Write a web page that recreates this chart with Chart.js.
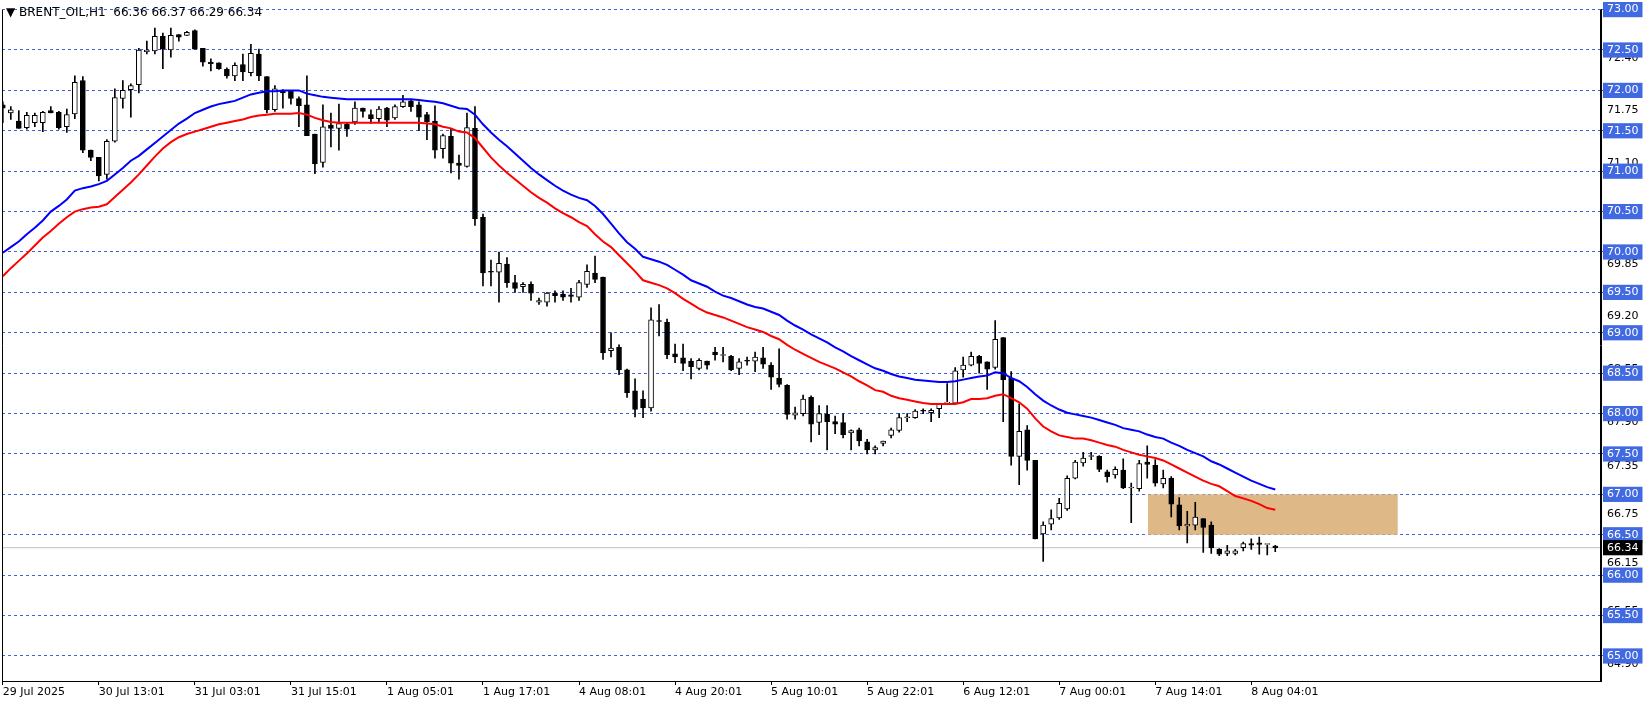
<!DOCTYPE html>
<html><head><meta charset="utf-8">
<script src="https://cdn.jsdelivr.net/npm/chart.js@4/dist/chart.umd.min.js"></script>
<style>
html,body{margin:0;padding:0;background:#fff;}
#wrap{position:relative;width:1651px;height:705px;}
#hdr{position:absolute;left:6px;top:5px;font:12px "DejaVu Sans",sans-serif;color:#000;white-space:pre;}
</style></head><body>
<div id="wrap"><canvas id="c" width="1651" height="705"></canvas>
<div id="hdr">▼ BRENT_OIL,H1  66.36 66.37 66.29 66.34</div></div>
<script>
const opens=[71.82,71.72,71.62,71.54,71.60,71.60,71.75,71.73,71.55,71.71,72.12,71.26,71.17,70.96,71.37,71.90,72.01,72.07,72.48,72.49,72.67,72.50,72.69,72.68,72.74,72.52,72.35,72.34,72.26,72.18,72.32,72.22,72.45,72.17,71.76,72.00,72.00,71.90,71.82,71.46,71.11,71.57,71.53,71.58,71.61,71.78,71.70,71.65,71.78,71.66,71.80,71.87,71.82,71.70,71.62,71.28,71.43,71.10,71.06,71.53,70.43,69.76,69.75,69.85,69.62,69.57,69.60,69.38,69.38,69.49,69.48,69.47,69.44,69.60,69.74,69.69,68.78,68.82,68.54,68.28,68.18,68.07,69.15,69.13,68.74,68.69,68.65,68.56,68.65,68.76,68.72,68.71,68.56,68.66,68.65,68.69,68.60,68.44,68.35,67.98,68.00,68.20,67.89,67.99,67.90,67.89,67.76,67.80,67.65,67.55,67.63,67.73,67.79,67.95,67.95,68.04,68.01,68.06,68.13,68.13,68.54,68.60,68.71,68.64,68.57,68.94,68.44,67.47,67.80,67.42,66.51,66.63,66.71,66.82,67.20,67.39,67.47,67.47,67.28,67.24,67.30,67.08,67.07,67.40,67.36,67.13,67.20,66.87,66.61,66.62,66.70,66.62,66.32,66.27,66.27,66.34,66.39,66.40,66.38,66.36];
const highs=[71.86,71.80,71.75,71.73,71.72,71.74,71.80,71.74,71.77,72.18,72.17,71.26,71.17,71.39,72.02,72.12,72.08,72.52,72.61,72.77,72.71,72.77,72.69,72.73,72.75,72.52,72.39,72.34,72.28,72.34,72.45,72.57,72.51,72.17,72.06,72.01,72.00,71.92,72.18,71.46,71.82,71.72,71.83,71.60,71.86,71.78,71.76,71.80,71.79,71.82,71.94,71.89,71.86,71.73,71.81,71.46,71.52,71.20,71.72,71.80,70.47,69.90,70.00,69.93,69.71,69.62,69.63,69.43,69.50,69.52,69.52,69.55,69.65,69.84,69.95,69.69,69.00,68.85,68.55,68.43,68.28,69.31,69.35,69.17,68.86,68.86,68.68,68.68,68.65,68.82,68.82,68.72,68.68,68.70,68.76,68.82,68.63,68.80,68.36,68.08,68.23,68.22,68.10,68.10,67.97,68.00,67.80,67.82,67.68,67.60,67.66,67.82,68.00,68.00,68.05,68.06,68.06,68.12,68.37,68.57,68.70,68.76,68.72,68.64,69.15,68.94,68.52,68.12,67.85,67.42,66.66,66.81,66.95,67.23,67.42,67.52,67.52,67.48,67.30,67.34,67.44,67.14,67.42,67.60,67.43,67.30,67.22,66.96,66.79,66.90,66.70,66.66,66.33,66.37,66.32,66.41,66.45,66.47,66.38,66.37];
const lows=[71.60,71.64,71.53,71.52,71.55,71.49,71.72,71.52,71.48,71.65,71.23,71.13,70.88,70.90,71.36,71.78,71.67,71.97,72.45,72.45,72.27,72.41,72.61,72.68,72.51,72.30,72.24,72.26,72.15,72.12,72.12,72.18,72.12,71.72,71.74,71.78,71.83,71.55,71.44,70.97,71.05,71.30,71.26,71.43,71.58,71.67,71.59,71.60,71.55,71.64,71.79,71.74,71.50,71.39,71.16,71.16,70.98,70.90,71.05,70.33,69.58,69.58,69.38,69.56,69.50,69.50,69.40,69.35,69.33,69.38,69.40,69.38,69.40,69.56,69.62,68.67,68.70,68.48,68.20,67.96,67.95,68.03,68.96,68.68,68.63,68.53,68.43,68.54,68.55,68.66,68.64,68.53,68.48,68.60,68.52,68.56,68.30,68.33,67.93,67.93,67.97,67.65,67.74,67.55,67.75,67.70,67.55,67.60,67.50,67.50,67.60,67.70,67.77,67.90,67.94,68.00,67.90,67.95,68.12,68.12,68.45,68.59,68.50,68.30,68.55,67.90,67.36,67.12,67.30,66.45,66.17,66.56,66.69,66.80,67.19,67.35,67.43,67.28,67.15,67.20,67.07,66.65,67.04,67.20,67.10,67.08,66.72,66.56,66.40,66.56,66.28,66.27,66.24,66.24,66.25,66.30,66.32,66.26,66.25,66.29];
const closes=[71.78,71.76,71.53,71.69,71.69,71.73,71.72,71.54,71.70,72.10,71.26,71.17,70.94,71.37,71.91,72.00,72.06,72.50,72.50,72.67,72.51,72.68,72.66,72.72,72.51,72.35,72.33,72.27,72.18,72.31,72.23,72.46,72.18,71.76,72.02,71.97,71.90,71.81,71.44,71.09,71.55,71.53,71.59,71.52,71.78,71.74,71.65,71.77,71.63,71.80,71.86,71.80,71.67,71.61,71.26,71.44,71.10,71.07,71.54,70.41,69.74,69.75,69.86,69.62,69.55,69.60,69.49,69.40,69.49,69.46,69.44,69.45,69.62,69.76,69.66,68.75,68.81,68.54,68.26,68.05,68.07,69.16,69.14,68.73,68.70,68.62,68.58,68.66,68.60,68.73,68.72,68.54,68.64,68.65,68.70,68.61,68.45,68.36,67.99,68.01,68.18,67.87,68.00,67.90,67.87,67.74,67.79,67.66,67.55,67.58,67.66,67.80,67.95,67.96,68.03,68.03,68.04,68.12,68.14,68.53,68.60,68.71,68.62,68.55,68.92,68.42,67.47,67.78,67.42,66.45,66.62,66.70,66.89,67.20,67.40,67.45,67.48,67.31,67.22,67.31,67.08,67.09,67.38,67.37,67.14,67.20,66.88,66.61,66.63,66.72,66.59,66.34,66.26,66.30,66.30,66.39,66.37,66.38,66.39,66.34];
const emaBlue=[69.99,70.06,70.13,70.22,70.30,70.39,70.50,70.57,70.65,70.76,70.79,70.81,70.84,70.88,70.96,71.04,71.13,71.19,71.27,71.35,71.43,71.51,71.59,71.65,71.72,71.76,71.80,71.83,71.85,71.87,71.91,71.95,71.97,71.99,71.99,72.00,72.00,72.00,71.96,71.94,71.92,71.91,71.90,71.89,71.89,71.89,71.89,71.89,71.89,71.89,71.89,71.89,71.88,71.87,71.86,71.84,71.81,71.78,71.77,71.70,71.58,71.48,71.39,71.31,71.22,71.13,71.04,70.96,70.89,70.82,70.76,70.71,70.67,70.64,70.57,70.47,70.35,70.23,70.12,70.04,69.94,69.91,69.88,69.84,69.78,69.72,69.65,69.61,69.57,69.51,69.46,69.43,69.39,69.35,69.32,69.30,69.26,69.22,69.15,69.09,69.04,68.98,68.93,68.88,68.82,68.77,68.71,68.66,68.61,68.56,68.53,68.49,68.46,68.44,68.42,68.41,68.40,68.39,68.39,68.40,68.42,68.44,68.46,68.47,68.51,68.50,68.44,68.40,68.33,68.24,68.16,68.10,68.05,68.01,67.99,67.97,67.95,67.92,67.89,67.86,67.82,67.80,67.78,67.74,67.71,67.69,67.64,67.60,67.55,67.51,67.47,67.41,67.37,67.32,67.27,67.22,67.17,67.13,67.09,67.06];
const emaRed=[69.70,69.80,69.89,69.98,70.08,70.18,70.26,70.35,70.43,70.50,70.53,70.55,70.56,70.59,70.68,70.77,70.86,70.96,71.07,71.18,71.28,71.36,71.42,71.46,71.49,71.52,71.55,71.58,71.60,71.62,71.64,71.67,71.69,71.70,71.71,71.71,71.71,71.72,71.70,71.66,71.63,71.61,71.60,71.60,71.60,71.60,71.60,71.60,71.60,71.60,71.60,71.60,71.60,71.59,71.58,71.55,71.53,71.49,71.48,71.41,71.29,71.17,71.07,70.98,70.90,70.82,70.74,70.67,70.61,70.54,70.48,70.43,70.37,70.32,70.22,70.13,70.06,69.96,69.86,69.76,69.65,69.62,69.59,69.55,69.49,69.42,69.36,69.30,69.25,69.22,69.19,69.15,69.11,69.07,69.04,69.01,68.96,68.92,68.85,68.79,68.74,68.69,68.64,68.60,68.56,68.51,68.46,68.40,68.35,68.29,68.27,68.22,68.19,68.17,68.15,68.13,68.12,68.12,68.12,68.12,68.14,68.18,68.18,68.19,68.22,68.24,68.19,68.14,68.06,67.94,67.84,67.78,67.73,67.71,67.69,67.69,67.67,67.64,67.61,67.59,67.55,67.52,67.49,67.47,67.45,67.42,67.37,67.32,67.27,67.22,67.17,67.13,67.10,67.04,66.98,66.95,66.92,66.88,66.83,66.81];
const timeTickIdx=[0,12,24,36,48,60,72,84,96,108,120,132,144,156];
const timeLabels=["29 Jul 2025","30 Jul 13:01","31 Jul 03:01","31 Jul 15:01","1 Aug 05:01","1 Aug 17:01","4 Aug 08:01","4 Aug 20:01","5 Aug 10:01","5 Aug 22:01","6 Aug 12:01","7 Aug 00:01","7 Aug 14:01","8 Aug 04:01"];
const minorPriceTicks=[72.40,71.75,71.10,69.85,69.20,68.55,67.90,67.35,66.75,66.15,65.55,64.90];
const gridPriceTicks=[73.0,72.5,72.0,71.5,71.0,70.5,70.0,69.5,69.0,68.5,68.0,67.5,67.0,66.5,66.0,65.5,65.0];
const lastPrice=66.34;
const zoneX=[143.1,174.3], zoneY=[66.5,67.0];

const idx=opens.map((_,i)=>i);
const wickData=idx.map(i=>({x:i,y:[lows[i],highs[i]]}));
const bodyData=idx.map(i=>{let a=opens[i],b=closes[i];if(Math.abs(a-b)<0.005)b=a+0.01;return {x:i,y:[a,b]};});
const bodyFill=idx.map(i=>closes[i]>=opens[i]?'#ffffff':'#000000');
const blueData=idx.map(i=>({x:i,y:emaBlue[i]}));
const redData=idx.map(i=>({x:i,y:emaRed[i]}));
const allY=[...minorPriceTicks,...gridPriceTicks,lastPrice];
const isGrid=v=>gridPriceTicks.some(g=>Math.abs(g-v)<1e-6);
const isLast=v=>Math.abs(v-lastPrice)<1e-6;
const FONT={family:'"DejaVu Sans", sans-serif',size:11};

const zonePlugin={id:'zone',beforeDatasetsDraw(ch){const x=ch.scales.x,y=ch.scales.y,c=ch.ctx;
 const x0=x.getPixelForValue(zoneX[0]),x1=x.getPixelForValue(zoneX[1]),y0=y.getPixelForValue(zoneY[1]),y1=y.getPixelForValue(zoneY[0]);
 c.save();c.fillStyle='#deb887';c.fillRect(x0,y0,x1-x0,y1-y0);c.restore();}};
const borderPlugin={id:'bord',afterDraw(ch){const a=ch.chartArea,c=ch.ctx;c.save();c.strokeStyle='#000';c.lineWidth=1;
 const l=Math.round(a.left)+0.5,r=Math.round(a.right)-0.5,t=Math.round(a.top),b=Math.round(a.bottom)+0.5;
 c.beginPath();c.moveTo(l,t);c.lineTo(l,b);c.lineTo(r,b);c.lineTo(r,t);c.stroke();c.restore();}};

new Chart(document.getElementById('c'),{
 type:'bar',
 data:{datasets:[
  {type:'line',data:blueData,borderColor:'#0000ff',borderWidth:2,pointRadius:0,order:0,tension:0},
  {type:'line',data:redData,borderColor:'#ff0000',borderWidth:2,pointRadius:0,order:0,tension:0},
  {type:'line',data:[{x:-1,y:lastPrice},{x:205,y:lastPrice}],borderColor:'#c0c0c0',borderWidth:1,pointRadius:0,order:5},
  {data:bodyData,backgroundColor:bodyFill,borderColor:'#000',borderWidth:1,borderSkipped:false,barThickness:5,grouped:false,order:1},
  {data:wickData,backgroundColor:'#000',borderWidth:0,barThickness:1,grouped:false,order:2}
 ]},
 options:{
  responsive:false,animation:false,
  layout:{padding:{left:2,top:3,right:0,bottom:0}},
  plugins:{legend:{display:false},tooltip:{enabled:false}},
  scales:{
   x:{type:'linear',min:-0.1,max:199.7,offset:false,
    grid:{drawOnChartArea:false,offset:false,color:'#000',tickLength:4},
    border:{color:'#000'},
    afterBuildTicks(s){s.ticks=timeTickIdx.map(v=>({value:v}));},
    afterFit(s){s.height=24;},
    ticks:{autoSkip:false,maxRotation:0,align:'start',color:'#000',font:FONT,padding:1,
      callback(v){const k=timeTickIdx.indexOf(v);return k>=0?timeLabels[k]:'';}}},
   y:{position:'right',min:64.69,max:73.0,
    afterBuildTicks(s){s.ticks=allY.map(v=>({value:v}));},
    afterFit(s){s.width=50;},
    border:{color:'#000',dash:[3,3]},
    grid:{color(c){const v=c.tick&&c.tick.value;return (v!==undefined&&isGrid(v))?'#3d63dd':'rgba(0,0,0,0)';},tickLength:3,lineWidth:1},
    ticks:{font:FONT,padding:3,showLabelBackdrop:true,backdropPadding:{left:4,right:4,top:1,bottom:1},
     color(c){const v=c.tick.value;return (isGrid(v)||isLast(v))?'#ffffff':'#000000';},
     backdropColor(c){const v=c.tick.value;return isGrid(v)?'#4169e1':(isLast(v)?'#000000':'rgba(0,0,0,0)');},
     callback(v){return Number(v).toFixed(2);}}}
  }
 },
 plugins:[zonePlugin,borderPlugin]
});
</script></body></html>
